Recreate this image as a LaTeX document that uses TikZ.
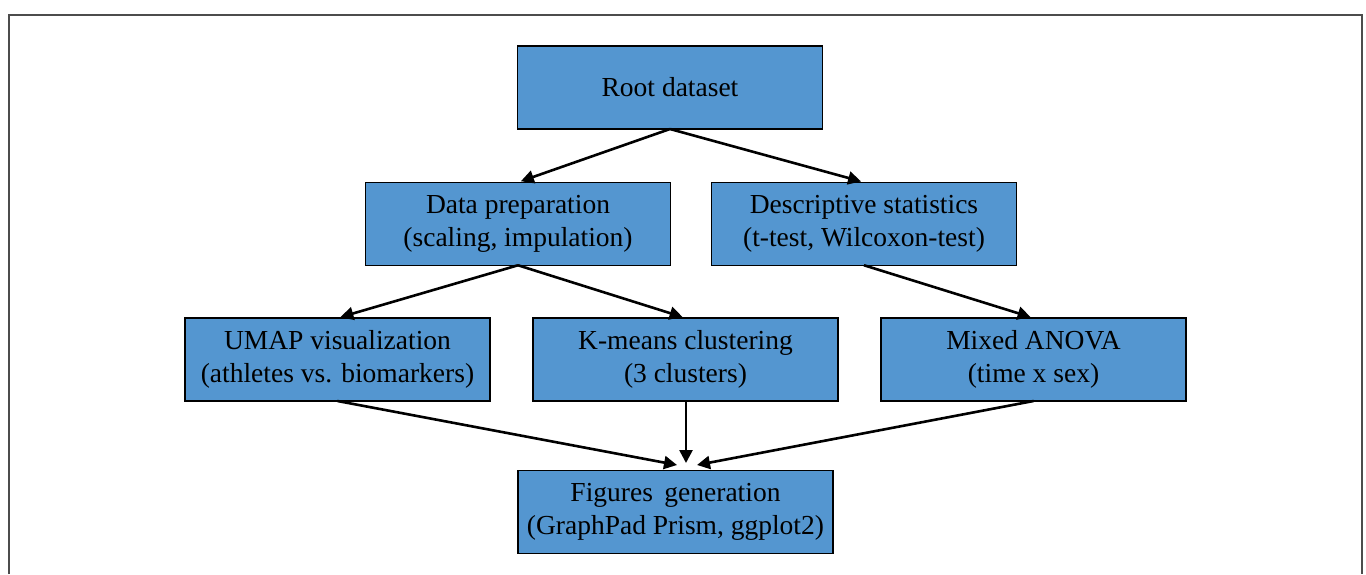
\documentclass[tikz,border=0pt]{standalone}
\usepackage{fontspec}
\setmainfont{Liberation Serif}
\usetikzlibrary{arrows.meta}
\definecolor{boxblue}{RGB}{84,150,208}
\begin{document}
\begin{tikzpicture}[y=1pt,x=1pt,yscale=-1, inner sep=0pt, outer sep=0pt,
  stagebox/.style={draw=black,fill=boxblue,line width=1.4pt,minimum width=305pt,
    minimum height=83pt,align=center,font=\fontsize{27.5}{33}\selectfont},
  flowarrow/.style={draw=black,line width=2.6pt,line join=miter,
    -{Triangle[length=13pt,width=13pt]},shorten >=3pt}]
\useasboundingbox (0,0) rectangle (1366,574);
\path[draw=black!70,line width=1.8pt] (9,574) -- (9,15) -- (1362,15) -- (1362,574);

\node[stagebox] (root) at (670,87.5) {Root dataset};

\node[stagebox] (prep) at (518,223.75) {Data preparation\\(scaling, impulation)};
\node[stagebox] (desc) at (864,223.75) {Descriptive statistics\\(t-test, Wilcoxon-test)};

\node[stagebox] (umap) at (337.5,359.5) {UMAP visualization\\(athletes vs. biomarkers)};
\node[stagebox] (kmeans) at (685.5,359.5) {K-means clustering\\(3 clusters)};
\node[stagebox] (anova) at (1033.5,359.5) {Mixed ANOVA\\(time x sex)};

\node[stagebox,minimum width=315pt] (figs) at (675.5,512) {Figures\, generation\\(GraphPad Prism, ggplot2)};

\coordinate (figleft) at (677,465);
\coordinate (figmid) at (686,463);
\coordinate (figright) at (697,465);

\path[flowarrow] (root.south) -- (prep.north);
\path[flowarrow] (root.south) -- (desc.north);
\path[flowarrow] (prep.south) -- (umap.north);
\path[flowarrow] (prep.south) -- (kmeans.north);
\path[flowarrow] (desc.south) -- (anova.north);

\path[flowarrow,shorten >=0pt] (umap.south) -- (figleft);
\path[flowarrow,shorten >=0pt] (kmeans.south -| figmid) -- (figmid);
\path[flowarrow,shorten >=0pt] (anova.south) -- (figright);
\end{tikzpicture}
\end{document}
